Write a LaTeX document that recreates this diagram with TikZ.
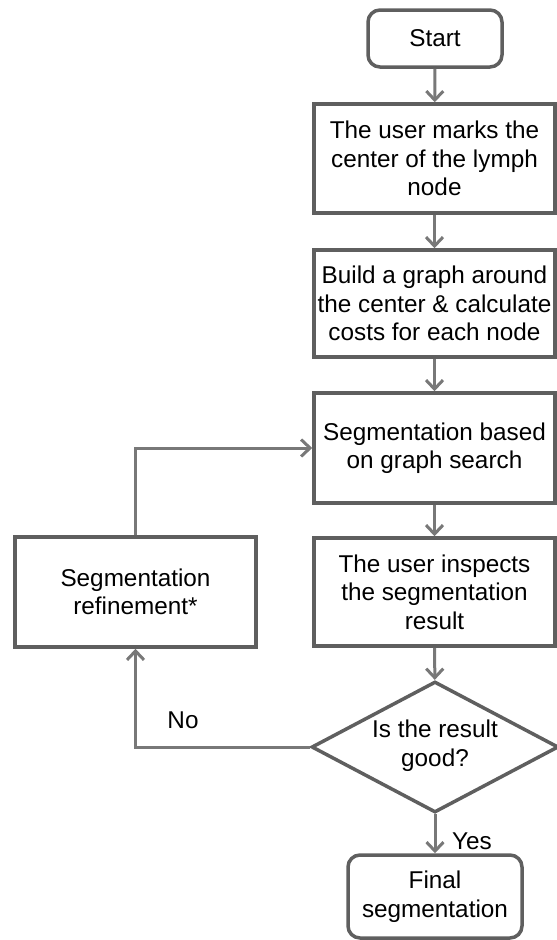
\documentclass[tikz,border=0pt]{standalone}
\usepackage{fontspec}
\setmainfont{Liberation Sans}
\usetikzlibrary{shapes.geometric,arrows.meta}
\definecolor{boxgray}{RGB}{95,95,95}
\definecolor{arrgray}{RGB}{120,120,120}
\tikzset{
  every node/.style={font=\fontsize{24.3pt}{28.5pt}\selectfont, text=black, align=center, inner sep=0pt},
  stepbox/.style={draw=boxgray, line width=3.5pt, rectangle, minimum width=241pt},
  termbox/.style={draw=boxgray, line width=3.5pt, rectangle, rounded corners=12pt},
  decbox/.style={draw=boxgray, line width=3.5pt, diamond, minimum width=247pt, minimum height=131pt},
  conn/.style={draw=arrgray, line width=3pt, -{Straight Barb[length=9pt,width=17pt]}},
  lbl/.style={font=\fontsize{24.3pt}{28pt}\selectfont}
}
\begin{document}
\begin{tikzpicture}[x=1pt,y=-1pt]
\useasboundingbox (0,0) rectangle (557,940);
\node[termbox, minimum width=134pt, minimum height=57pt] (start) at (435,38.5) {Start};
\node[stepbox, minimum height=109pt] (b1) at (434.5,158.5) {The user marks the\\center of the lymph\\node};
\node[stepbox, minimum height=107pt] (b2) at (434.5,303.5) {Build a graph around\\the center \& calculate\\costs for each node};
\node[stepbox, minimum height=110pt] (b3) at (434.5,448) {Segmentation based\\on graph search};
\node[stepbox, minimum height=108pt] (b4) at (434.5,592) {The user inspects\\the segmentation\\result};
\node[stepbox, minimum height=110pt] (ref) at (135.5,592) {Segmentation\\refinement*};
\node[decbox] (dec) at (435,747) {};
\node at (435,745.5) {Is the result\\good?};
\node[termbox, minimum width=174pt, minimum height=83pt] (fin) at (435,896.5) {Final\\segmentation};
\draw[conn] (start) -- (b1);
\draw[conn] (b1) -- (b2);
\draw[conn] (b2) -- (b3);
\draw[conn] (b3) -- (b4);
\draw[conn] (b4) -- (dec);
\draw[conn] (dec) -- (fin);
\draw[conn] (ref.north) |- (b3.west);
\draw[conn] (dec.west) -| (ref.south);
\node[lbl] (yes) at (472,841) {Yes};
\node[lbl] (no) at (183,720) {No};
\end{tikzpicture}
\end{document}
